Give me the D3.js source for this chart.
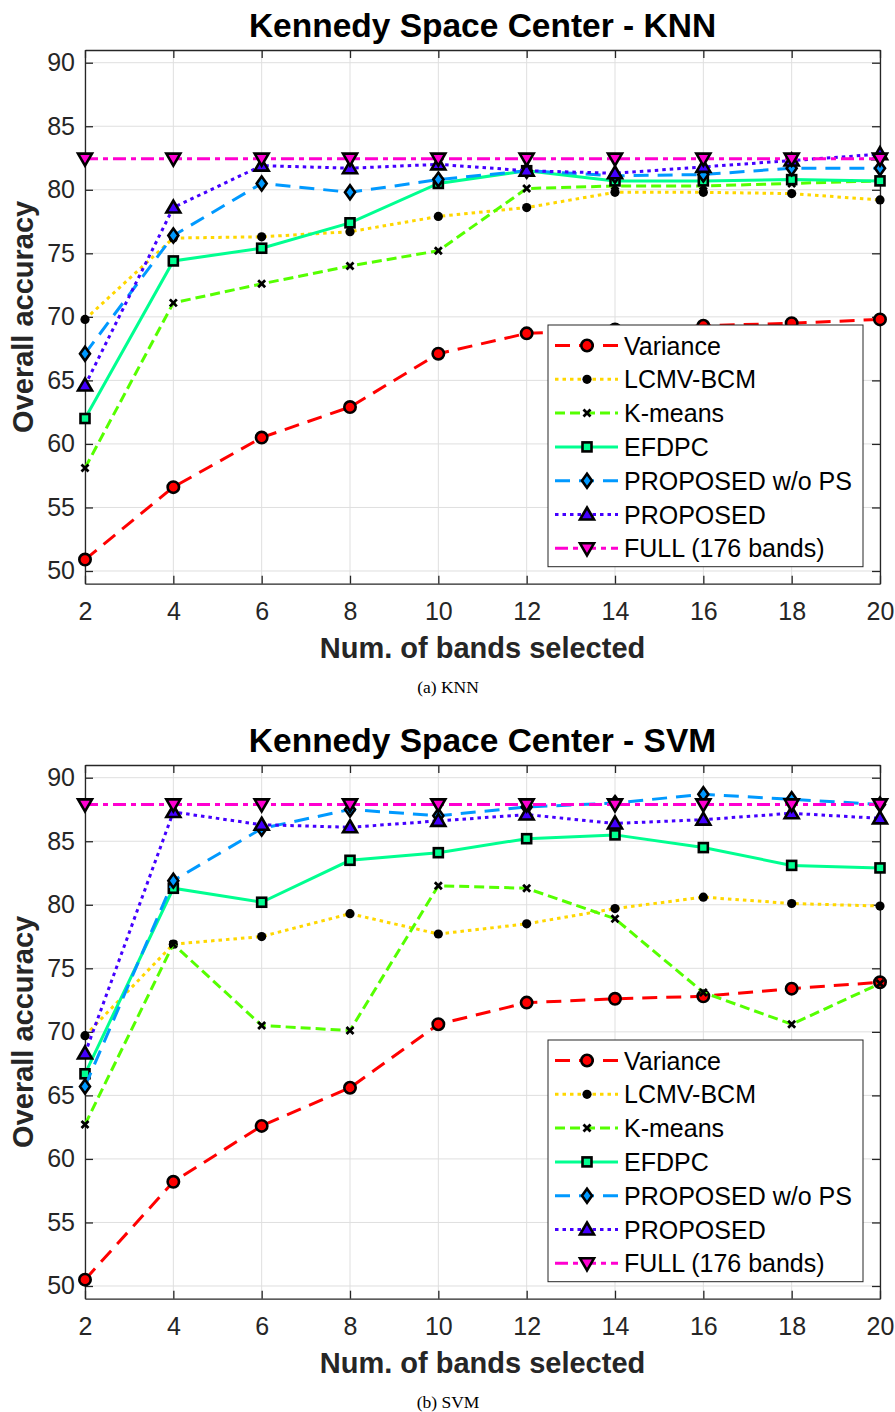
<!DOCTYPE html>
<html>
<head>
<meta charset="utf-8">
<script src="https://cdn.jsdelivr.net/npm/d3@7"></script>
<style>
  body { margin: 0; background: #fff; }
</style>
</head>
<body>
<svg id="fig" width="895" height="1412" font-family="Liberation Sans, Arial, sans-serif"></svg>
<script>
// x values and y ticks
const bands = [2, 4, 6, 8, 10, 12, 14, 16, 18, 20];
const yTicks = [50, 55, 60, 65, 70, 75, 80, 85, 90];
const methods = ["Variance", "LCMV-BCM", "K-means", "EFDPC", "PROPOSED w/o PS", "PROPOSED", "FULL (176 bands)"];

// KNN panel
const knnVariance = [50.9, 56.6, 60.5, 62.9, 67.1, 68.7, 69.0, 69.3, 69.5, 69.8];
const knnLcmv     = [69.8, 76.2, 76.3, 76.7, 77.9, 78.6, 79.8, 79.8, 79.7, 79.2];
const knnKmeans   = [58.1, 71.1, 72.6, 74.0, 75.2, 80.1, 80.3, 80.3, 80.5, 80.7];
const knnEfdpc    = [62.0, 74.4, 75.4, 77.4, 80.5, 81.5, 80.7, 80.7, 80.8, 80.7];
const knnWoPs     = [67.1, 76.4, 80.5, 79.8, 80.8, 81.5, 81.1, 81.2, 81.7, 81.7];
const knnProposed = [64.6, 78.6, 81.9, 81.7, 82.0, 81.5, 81.3, 81.8, 82.3, 82.8];
const knnFull     = [82.45, 82.45, 82.45, 82.45, 82.45, 82.45, 82.45, 82.45, 82.45, 82.45];

// SVM panel
const svmVariance = [50.5, 58.2, 62.6, 65.6, 70.6, 72.3, 72.6, 72.8, 73.4, 73.9];
const svmLcmv     = [69.7, 76.9, 77.5, 79.3, 77.7, 78.5, 79.7, 80.6, 80.1, 79.9];
const svmKmeans   = [62.7, 76.9, 70.5, 70.1, 81.5, 81.3, 78.9, 73.1, 70.6, 73.8];
const svmEfdpc    = [66.7, 81.3, 80.2, 83.5, 84.1, 85.2, 85.5, 84.5, 83.1, 82.9];
const svmWoPs     = [65.7, 81.9, 86.0, 87.5, 87.0, 87.7, 88.0, 88.7, 88.3, 87.9];
const svmProposed = [68.3, 87.3, 86.3, 86.1, 86.6, 87.1, 86.4, 86.7, 87.2, 86.8];
const svmFull     = [87.9, 87.9, 87.9, 87.9, 87.9, 87.9, 87.9, 87.9, 87.9, 87.9];

// line/marker styles, same order as methods
const styles = [
  {color: "#ff0000", dash: "15,9",      marker: "circle",  fill: "#ff0000"},
  {color: "#ffd700", dash: "3.5,4",     marker: "dot",     fill: "#000"},
  {color: "#55ff00", dash: "10,5",      marker: "x",       fill: "none"},
  {color: "#00ff90", dash: null,        marker: "square",  fill: "#00ff90"},
  {color: "#0099ff", dash: "15,9",      marker: "diamond", fill: "#0099ff"},
  {color: "#4400ff", dash: "3.5,4",     marker: "tri",     fill: "#4400ff"},
  {color: "#ff00d0", dash: "13,5,5,5",  marker: "trid",    fill: "#ff00d0"}
];

const svg = d3.select("#fig");
svg.append("rect").attr("width", 895).attr("height", 1412).attr("fill", "#fff");

const left = 85, right = 880;
const x = d3.scaleLinear().domain([2, 20]).range([left, right]);

function drawMarker(g, type, fill) {
  if (type === "circle") {
    g.append("circle").attr("r", 5.7).attr("fill", fill).attr("stroke", "#000").attr("stroke-width", 2.6);
  } else if (type === "dot") {
    g.append("circle").attr("r", 4.6).attr("fill", "#000");
  } else if (type === "x") {
    g.append("path").attr("d", "M-3.5,-3.5L3.5,3.5M-3.5,3.5L3.5,-3.5")
      .attr("stroke", "#000").attr("stroke-width", 2.8);
  } else if (type === "square") {
    g.append("rect").attr("x", -4.5).attr("y", -4.5).attr("width", 9).attr("height", 9)
      .attr("fill", fill).attr("stroke", "#000").attr("stroke-width", 2.6);
  } else if (type === "diamond") {
    g.append("path").attr("d", "M0,-7L5,0L0,7L-5,0Z")
      .attr("fill", fill).attr("stroke", "#000").attr("stroke-width", 2.6);
  } else if (type === "tri") {
    g.append("path").attr("d", "M0,-7L7,5L-7,5Z")
      .attr("fill", fill).attr("stroke", "#000").attr("stroke-width", 2.6);
  } else if (type === "trid") {
    g.append("path").attr("d", "M0,7L7,-5L-7,-5Z")
      .attr("fill", fill).attr("stroke", "#000").attr("stroke-width", 2.6);
  }
}

function drawPanel(top, title, caption, series) {
  const bottom = top + 533.7;
  const y = d3.scaleLinear().domain([49, 91]).range([bottom, top]);
  const g = svg.append("g");

  // grid
  g.append("g").selectAll("line").data(bands).enter().append("line")
    .attr("x1", d => x(d)).attr("x2", d => x(d)).attr("y1", top).attr("y2", bottom)
    .attr("stroke", "#dfdfdf").attr("stroke-width", 1);
  g.append("g").selectAll("line").data(yTicks).enter().append("line")
    .attr("x1", left).attr("x2", right).attr("y1", d => y(d)).attr("y2", d => y(d))
    .attr("stroke", "#dfdfdf").attr("stroke-width", 1);

  // axes (MATLAB style ticks inside, box on)
  const ax = [
    g.append("g").attr("transform", `translate(0,${bottom})`)
      .call(d3.axisBottom(x).tickValues(bands).tickSizeInner(-8).tickSizeOuter(0).tickPadding(18.5)),
    g.append("g").attr("transform", `translate(0,${top})`)
      .call(d3.axisTop(x).tickValues(bands).tickSizeInner(-8).tickSizeOuter(0).tickFormat("")),
    g.append("g").attr("transform", `translate(${left},0)`)
      .call(d3.axisLeft(y).tickValues(yTicks).tickSizeInner(-8).tickSizeOuter(0).tickPadding(10)),
    g.append("g").attr("transform", `translate(${right},0)`)
      .call(d3.axisRight(y).tickValues(yTicks).tickSizeInner(-8).tickSizeOuter(0).tickFormat(""))
  ];
  ax.forEach(a => {
    a.attr("font-family", null);
    a.selectAll("path, line").attr("stroke", "#262626").attr("stroke-width", 1.3);
    a.selectAll("text").attr("font-size", 25).attr("fill", "#262626");
  });

  // series
  const line = d3.line().x((d, i) => x(bands[i])).y(d => y(d));
  series.forEach((vals, k) => {
    const s = styles[k];
    const sg = g.append("g");
    sg.append("path").datum(vals).attr("d", line)
      .attr("fill", "none").attr("stroke", s.color).attr("stroke-width", 3)
      .attr("stroke-dasharray", s.dash);
    sg.selectAll("g").data(vals).enter().append("g")
      .attr("transform", (d, i) => `translate(${x(bands[i])},${y(d)})`)
      .each(function() { drawMarker(d3.select(this), s.marker, s.fill); });
  });

  // titles
  g.append("text").attr("x", (left + right) / 2).attr("y", top - 13)
    .attr("text-anchor", "middle").attr("font-size", 33.5).attr("font-weight", "bold")
    .text(title);
  g.append("text").attr("x", (left + right) / 2).attr("y", bottom + 74.5)
    .attr("text-anchor", "middle").attr("font-size", 29).attr("font-weight", "bold").attr("fill", "#262626")
    .text("Num. of bands selected");
  g.append("text").attr("transform", `translate(33,${(top + bottom) / 2}) rotate(-90)`)
    .attr("text-anchor", "middle").attr("font-size", 29).attr("font-weight", "bold").attr("fill", "#262626")
    .text("Overall accuracy");
  g.append("text").attr("x", 448).attr("y", bottom + 109)
    .attr("text-anchor", "middle").attr("font-size", 17.5)
    .attr("font-family", "Liberation Serif, Times New Roman, serif")
    .text(caption);

  // legend
  const lw = 315, lh = 241.7;
  const lx = right - 17 - lw, ly = bottom - 17 - lh;
  const lg = g.append("g").attr("transform", `translate(${lx},${ly})`);
  lg.append("rect").attr("width", lw).attr("height", lh)
    .attr("fill", "#fff").attr("stroke", "#262626").attr("stroke-width", 1);
  methods.forEach((m, k) => {
    const s = styles[k];
    const row = lg.append("g").attr("transform", `translate(0,${20.5 + k * 33.8})`);
    row.append("line").attr("x1", 7).attr("x2", 70).attr("y1", 0).attr("y2", 0)
      .attr("stroke", s.color).attr("stroke-width", 3).attr("stroke-dasharray", s.dash);
    drawMarker(row.append("g").attr("transform", "translate(39,0)"), s.marker, s.fill);
    row.append("text").attr("x", 76).attr("y", 0).attr("dy", "0.36em")
      .attr("font-size", 25).attr("fill", "#000").text(m);
  });
}

drawPanel(50, "Kennedy Space Center - KNN", "(a) KNN",
  [knnVariance, knnLcmv, knnKmeans, knnEfdpc, knnWoPs, knnProposed, knnFull]);
drawPanel(765, "Kennedy Space Center - SVM", "(b) SVM",
  [svmVariance, svmLcmv, svmKmeans, svmEfdpc, svmWoPs, svmProposed, svmFull]);
</script>
</body>
</html>
